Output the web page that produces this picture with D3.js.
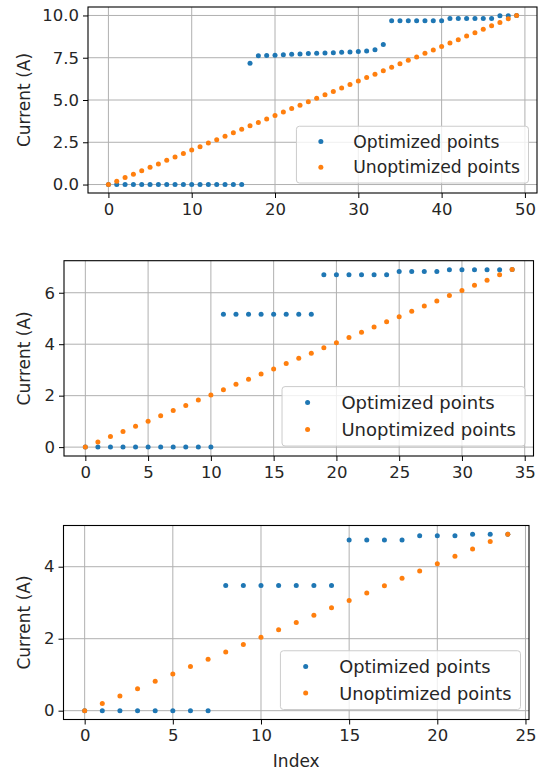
<!DOCTYPE html>
<html>
<head>
<meta charset="utf-8">
<script src="https://cdn.jsdelivr.net/npm/d3@7"></script>
<style>
  html, body { margin: 0; padding: 0; background: #ffffff; }
  svg { display: block; }
  text { font-family: "DejaVu Sans", sans-serif; fill: #262626; }
</style>
</head>
<body>
<script>
// Three sweeps: current per sample index, optimized vs. unoptimized set points.
const seriesNames = ["Optimized points", "Unoptimized points"];
const seriesColors = ["#1f77b4", "#ff7f0e"];

const sweep1Optimized = [
  0, 0, 0, 0, 0, 0, 0, 0, 0, 0, 0, 0, 0, 0, 0, 0, 0,
  7.18, 7.62, 7.63, 7.65, 7.67, 7.70, 7.72, 7.75, 7.77, 7.78, 7.80, 7.82, 7.84, 7.87, 7.90, 7.97,
  8.28, 9.68, 9.68, 9.68, 9.68, 9.68, 9.68, 9.68,
  9.82, 9.82, 9.82, 9.82, 9.82, 9.82, 9.98, 9.98, 10.0
];
const sweep1Unoptimized = [
  0, 0.20, 0.41, 0.61, 0.82, 1.02, 1.22, 1.43, 1.63, 1.84,
  2.04, 2.24, 2.45, 2.65, 2.86, 3.06, 3.27, 3.47, 3.67, 3.88,
  4.08, 4.29, 4.49, 4.69, 4.90, 5.10, 5.31, 5.51, 5.71, 5.92,
  6.12, 6.33, 6.53, 6.73, 6.94, 7.14, 7.35, 7.55, 7.76, 7.96,
  8.16, 8.37, 8.57, 8.78, 8.98, 9.18, 9.39, 9.59, 9.80, 10.0
];

const sweep2Optimized = [
  0, 0, 0, 0, 0, 0, 0, 0, 0, 0, 0,
  5.16, 5.16, 5.16, 5.16, 5.16, 5.16, 5.16, 5.16,
  6.70, 6.70, 6.70, 6.70, 6.70, 6.70,
  6.83, 6.83, 6.83, 6.83,
  6.89, 6.89, 6.89, 6.89, 6.89, 6.90
];
const sweep2Unoptimized = [
  0, 0.20, 0.41, 0.61, 0.81, 1.01, 1.22, 1.42, 1.62, 1.83,
  2.03, 2.23, 2.44, 2.64, 2.84, 3.04, 3.25, 3.45, 3.65, 3.86,
  4.06, 4.26, 4.46, 4.67, 4.87, 5.07, 5.28, 5.48, 5.68, 5.89,
  6.09, 6.29, 6.49, 6.70, 6.90
];

const sweep3Optimized = [
  0, 0, 0, 0, 0, 0, 0, 0,
  3.48, 3.48, 3.48, 3.48, 3.48, 3.48, 3.48,
  4.74, 4.74, 4.74, 4.74,
  4.86, 4.86, 4.86,
  4.90, 4.90, 4.90
];
const sweep3Unoptimized = [
  0, 0.20, 0.41, 0.61, 0.82, 1.02, 1.23, 1.43, 1.63, 1.84,
  2.04, 2.25, 2.45, 2.65, 2.86, 3.06, 3.27, 3.47, 3.68, 3.88,
  4.08, 4.29, 4.49, 4.70, 4.90
];

const sweep1XTicks = [0, 10, 20, 30, 40, 50];
const sweep1YTicks = [0, 2.5, 5, 7.5, 10];
const sweep2XTicks = [0, 5, 10, 15, 20, 25, 30, 35];
const sweep2YTicks = [0, 2, 4, 6];
const sweep3XTicks = [0, 5, 10, 15, 20, 25];
const sweep3YTicks = [0, 2, 4];

const yLabel = "Current (A)";
const xLabel = "Index";

// Layout of each subplot
const panels = [
  { series: [sweep1Optimized, sweep1Unoptimized], xTicks: sweep1XTicks, yTicks: sweep1YTicks, yFmt: d3.format(".1f"),
    box: { left: 88, right: 537, top: 7, bottom: 193 }, legendFont: 17.2, xTitle: false },
  { series: [sweep2Optimized, sweep2Unoptimized], xTicks: sweep2XTicks, yTicks: sweep2YTicks, yFmt: d3.format("d"),
    box: { left: 64, right: 533.5, top: 260.7, bottom: 456 }, legendFont: 18, xTitle: false },
  { series: [sweep3Optimized, sweep3Unoptimized], xTicks: sweep3XTicks, yTicks: sweep3YTicks, yFmt: d3.format("d"),
    box: { left: 63.5, right: 529, top: 525.5, bottom: 719.5 }, legendFont: 17.8, xTitle: true }
];

const W = 546, H = 772;
const tickFont = 16.5;
const labelFont = 17;

const svg = d3.select("body").append("svg").attr("width", W).attr("height", H);

// matplotlib-style 5% data margins
function padded(extent) {
  const span = extent[1] - extent[0];
  return [extent[0] - span * 0.05, extent[1] + span * 0.05];
}

panels.forEach(p => {
  const b = p.box;
  const n = p.series[0].length;
  const allY = p.series.flat();
  const x = d3.scaleLinear().domain(padded([0, n - 1])).range([b.left, b.right]);
  const y = d3.scaleLinear().domain(padded(d3.extent(allY))).range([b.bottom, b.top]);

  const g = svg.append("g");

  // grid
  g.append("g").selectAll("line").data(p.xTicks).join("line")
    .attr("x1", d => x(d)).attr("x2", d => x(d))
    .attr("y1", b.top).attr("y2", b.bottom)
    .attr("stroke", "#b0b0b0").attr("stroke-width", 1);
  g.append("g").selectAll("line").data(p.yTicks).join("line")
    .attr("y1", d => y(d)).attr("y2", d => y(d))
    .attr("x1", b.left).attr("x2", b.right)
    .attr("stroke", "#b0b0b0").attr("stroke-width", 1);

  // points (optimized first, unoptimized drawn over)
  p.series.forEach((vals, si) => {
    g.append("g").selectAll("circle").data(vals).join("circle")
      .attr("cx", (d, i) => x(i))
      .attr("cy", d => y(d))
      .attr("r", 2.5)
      .attr("fill", seriesColors[si]);
  });

  // frame
  g.append("rect")
    .attr("x", b.left).attr("y", b.top)
    .attr("width", b.right - b.left).attr("height", b.bottom - b.top)
    .attr("fill", "none").attr("stroke", "#000").attr("stroke-width", 1.1);

  // x axis
  const xAxis = d3.axisBottom(x).tickValues(p.xTicks).tickSize(5).tickPadding(5).tickFormat(d3.format("d"));
  const xg = g.append("g").attr("transform", `translate(0,${b.bottom})`).call(xAxis);
  xg.select(".domain").remove();
  xg.selectAll(".tick line").attr("stroke", "#000").attr("stroke-width", 1);
  xg.selectAll(".tick text").attr("font-size", tickFont).attr("font-family", "DejaVu Sans").attr("fill", "#262626");

  // y axis
  const yAxis = d3.axisLeft(y).tickValues(p.yTicks).tickSize(5).tickPadding(4).tickFormat(p.yFmt);
  const yg = g.append("g").attr("transform", `translate(${b.left},0)`).call(yAxis);
  yg.select(".domain").remove();
  yg.selectAll(".tick line").attr("stroke", "#000").attr("stroke-width", 1);
  yg.selectAll(".tick text").attr("font-size", tickFont).attr("font-family", "DejaVu Sans").attr("fill", "#262626");

  // y title
  g.append("text")
    .attr("transform", `translate(30,${(b.top + b.bottom) / 2}) rotate(-90)`)
    .attr("text-anchor", "middle")
    .attr("font-size", labelFont)
    .text(yLabel);

  if (p.xTitle) {
    g.append("text")
      .attr("x", (b.left + b.right) / 2)
      .attr("y", b.bottom + 47)
      .attr("text-anchor", "middle")
      .attr("font-size", labelFont)
      .text(xLabel);
  }

  // legend, lower right
  const fs = p.legendFont;
  const lg = g.append("g");
  const labels = lg.selectAll("text.lbl").data(seriesNames).join("text")
    .attr("class", "lbl")
    .attr("font-size", fs)
    .text(d => d);
  const textW = d3.max(labels.nodes(), n => n.getComputedTextLength());
  const boxW = 3.3 * fs + textW + 0.5 * fs;
  const boxH = 3.3 * fs;
  const bx = b.right - 8.5 - boxW;
  const by = b.bottom - 10 - boxH;
  lg.insert("rect", "text")
    .attr("x", bx).attr("y", by).attr("width", boxW).attr("height", boxH)
    .attr("rx", 3).attr("ry", 3)
    .attr("fill", "#ffffff").attr("fill-opacity", 0.8)
    .attr("stroke", "#cccccc").attr("stroke-width", 1);
  const rowY = i => by + 0.88 * fs + i * 1.5 * fs;
  lg.selectAll("circle").data(seriesNames).join("circle")
    .attr("cx", bx + 1.42 * fs)
    .attr("cy", (d, i) => rowY(i))
    .attr("r", 2.5)
    .attr("fill", (d, i) => seriesColors[i]);
  labels
    .attr("x", bx + 3.3 * fs)
    .attr("y", (d, i) => rowY(i) + 0.36 * fs);
});
</script>
</body>
</html>
